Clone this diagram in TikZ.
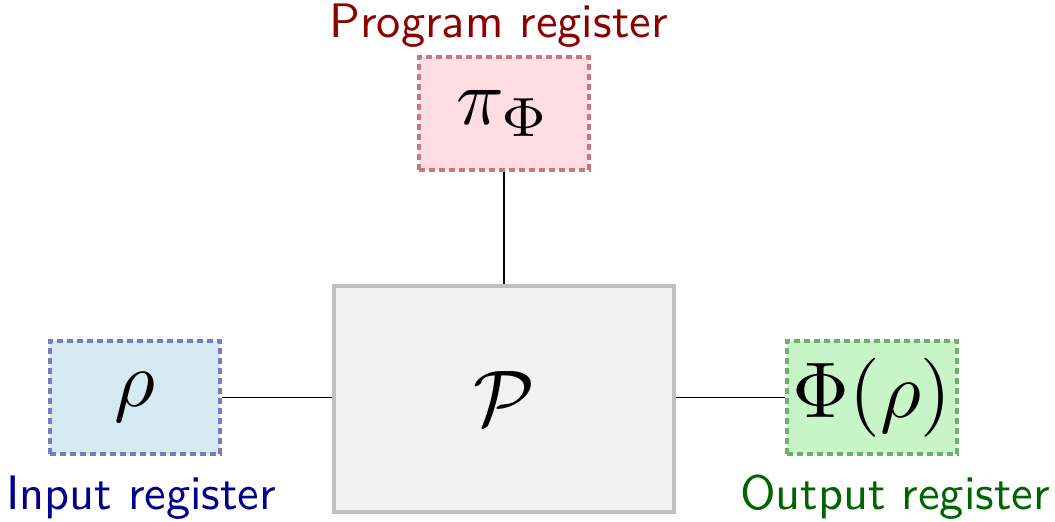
\documentclass[tikz,border=0pt]{standalone}
\usepackage{amsmath}
\usepackage{graphicx}
\definecolor{pinkfill}{RGB}{255,221,227}
\definecolor{pinkdraw}{RGB}{200,118,128}
\definecolor{bluefill}{RGB}{212,234,240}
\definecolor{bluedraw}{RGB}{118,124,196}
\definecolor{greenfill}{RGB}{200,245,200}
\definecolor{greendraw}{RGB}{108,176,108}
\definecolor{grayfill}{RGB}{242,242,242}
\definecolor{graydraw}{RGB}{192,192,192}
\definecolor{progcol}{RGB}{140,0,0}
\definecolor{incol}{RGB}{0,0,140}
\definecolor{outcol}{RGB}{0,100,0}
\newcommand{\regmath}[1]{\scalebox{3.95}{$#1$}}
\newcommand{\regtext}[1]{\scalebox{2.42}{#1}}
\begin{document}
\begin{tikzpicture}[x=0.5pt,y=-0.5pt,
  reg/.style={draw, line width=1.8pt, dash pattern=on 3pt off 2pt, minimum width=85pt, minimum height=56.5pt, inner sep=0pt},
  lbl/.style={inner sep=0pt, font=\sffamily},
  wire/.style={line width=0.9pt, black}]
\useasboundingbox (0,0) rectangle (1055,522);
\node[draw=graydraw, fill=grayfill, line width=2pt, minimum width=170pt, minimum height=113pt, inner sep=0pt] (proc) at (504,399) {\regmath{\mathcal{P}}};
\node[reg, fill=pinkfill, draw=pinkdraw] (prog) at (504,113.5) {\regmath{\pi_\Phi}};
\node[reg, fill=bluefill, draw=bluedraw] (inp) at (135,397.5) {\regmath{\rho}};
\node[reg, fill=greenfill, draw=greendraw] (out) at (872,397.5) {\regmath{\Phi(\rho)}};
\node[lbl, text=progcol, anchor=base] (progl) at (498.5,37.5) {\regtext{Program register}};
\node[lbl, text=incol, anchor=base] (inpl) at (141,510) {\regtext{Input register}};
\node[lbl, text=outcol, anchor=base] (outl) at (895,510) {\regtext{Output register}};
\draw[wire] (prog.south) -- (proc.north);
\draw[wire] (inp.east) -- (inp.east -| proc.west);
\draw[wire] (out.west -| proc.east) -- (out.west);
\end{tikzpicture}
\end{document}
